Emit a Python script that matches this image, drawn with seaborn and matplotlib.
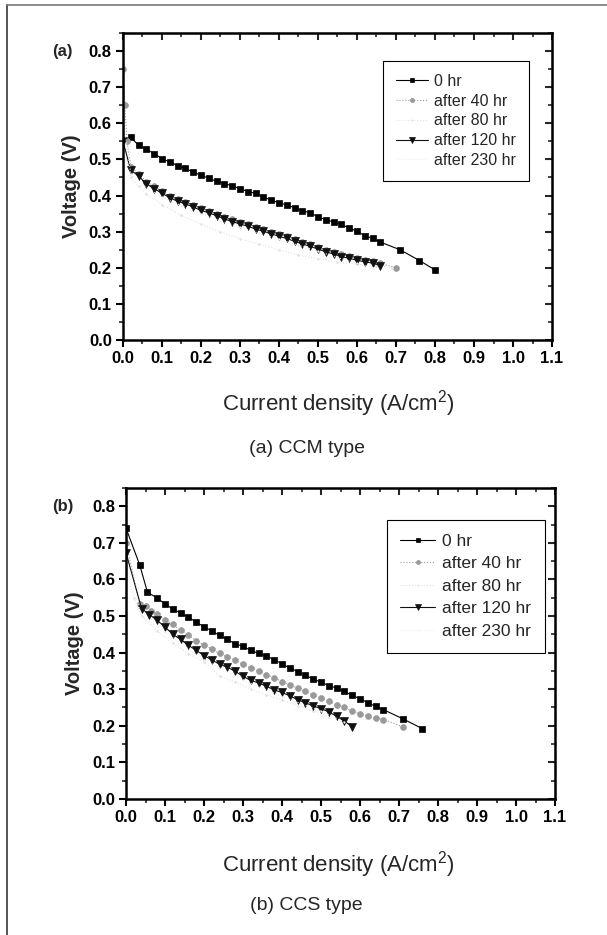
import matplotlib
matplotlib.use("Agg")
import matplotlib.pyplot as plt
from matplotlib.lines import Line2D
from matplotlib.ticker import MultipleLocator
import seaborn as sns

# ---- (a) CCM type ----
a_x_0 = [0.02, 0.04, 0.06, 0.08, 0.10, 0.12, 0.14, 0.16, 0.18, 0.20, 0.22, 0.24, 0.26, 0.28, 0.30, 0.32,
         0.34, 0.36, 0.38, 0.40, 0.42, 0.44, 0.46, 0.48, 0.50, 0.52, 0.54, 0.56, 0.58, 0.60, 0.62, 0.64,
         0.66, 0.71, 0.76, 0.80]
a_y_0 = [0.561, 0.539, 0.528, 0.516, 0.502, 0.493, 0.483, 0.475, 0.465, 0.456, 0.448, 0.439, 0.433, 0.427,
         0.419, 0.411, 0.406, 0.396, 0.387, 0.380, 0.374, 0.366, 0.358, 0.352, 0.341, 0.333, 0.327, 0.320,
         0.310, 0.301, 0.289, 0.281, 0.271, 0.250, 0.220, 0.194]
a_x_40 = [0.0, 0.005, 0.01, 0.02, 0.04, 0.06, 0.08, 0.10, 0.12, 0.14, 0.16, 0.18, 0.20, 0.22, 0.24, 0.26,
          0.28, 0.30, 0.32, 0.34, 0.36, 0.38, 0.40, 0.42, 0.44, 0.46, 0.48, 0.50, 0.52, 0.54, 0.56, 0.58,
          0.60, 0.62, 0.64, 0.66, 0.70]
a_y_40 = [0.75, 0.65, 0.55, 0.48, 0.460, 0.438, 0.425, 0.412, 0.400, 0.390, 0.383, 0.374, 0.365, 0.358,
          0.350, 0.341, 0.334, 0.327, 0.321, 0.313, 0.307, 0.300, 0.293, 0.287, 0.279, 0.272, 0.265, 0.258,
          0.250, 0.244, 0.237, 0.232, 0.227, 0.222, 0.219, 0.212, 0.200]
a_x_80 = [0.0, 0.01, 0.02, 0.04, 0.06, 0.10, 0.15, 0.20, 0.25, 0.30, 0.35, 0.40, 0.45, 0.50, 0.55, 0.60,
          0.65, 0.69]
a_y_80 = [0.66, 0.50, 0.45, 0.425, 0.405, 0.375, 0.345, 0.320, 0.300, 0.280, 0.265, 0.250, 0.235, 0.225,
          0.215, 0.210, 0.205, 0.200]
a_x_120 = [0.0, 0.02, 0.04, 0.06, 0.08, 0.10, 0.12, 0.14, 0.16, 0.18, 0.20, 0.22, 0.24, 0.26, 0.28, 0.30,
           0.32, 0.34, 0.36, 0.38, 0.40, 0.42, 0.44, 0.46, 0.48, 0.50, 0.52, 0.54, 0.56, 0.58, 0.60, 0.62,
           0.64, 0.66]
a_y_120 = [0.55, 0.47, 0.454, 0.432, 0.419, 0.406, 0.394, 0.384, 0.377, 0.368, 0.359, 0.352, 0.344, 0.335,
           0.328, 0.321, 0.315, 0.307, 0.301, 0.294, 0.287, 0.281, 0.273, 0.266, 0.259, 0.252, 0.244, 0.238,
           0.231, 0.226, 0.221, 0.216, 0.213, 0.206]
a_x_230 = [0.0, 0.02, 0.05, 0.10, 0.15, 0.20, 0.25, 0.30, 0.35, 0.40, 0.45, 0.50, 0.55, 0.60, 0.64]
a_y_230 = [0.62, 0.46, 0.43, 0.395, 0.372, 0.350, 0.330, 0.312, 0.295, 0.279, 0.262, 0.246, 0.228, 0.212, 0.200]

# ---- (b) CCS type ----
b_x_0 = [0.0, 0.035, 0.055, 0.08, 0.10, 0.12, 0.14, 0.16, 0.18, 0.20, 0.22, 0.24, 0.26, 0.28, 0.30, 0.32,
         0.34, 0.36, 0.38, 0.40, 0.42, 0.44, 0.46, 0.48, 0.50, 0.52, 0.54, 0.56, 0.58, 0.60, 0.62, 0.64,
         0.66, 0.71, 0.76]
b_y_0 = [0.74, 0.64, 0.565, 0.549, 0.533, 0.519, 0.508, 0.497, 0.483, 0.471, 0.459, 0.447, 0.436, 0.424,
         0.417, 0.406, 0.398, 0.390, 0.381, 0.369, 0.358, 0.348, 0.338, 0.328, 0.319, 0.310, 0.303, 0.294,
         0.283, 0.274, 0.263, 0.253, 0.244, 0.219, 0.192]
b_x_40 = [0.0, 0.035, 0.05, 0.065, 0.08, 0.10, 0.12, 0.14, 0.16, 0.18, 0.20, 0.22, 0.24, 0.26, 0.28, 0.30,
          0.32, 0.34, 0.36, 0.38, 0.40, 0.42, 0.44, 0.46, 0.48, 0.50, 0.52, 0.54, 0.56, 0.58, 0.60, 0.62,
          0.64, 0.66, 0.71]
b_y_40 = [0.70, 0.533, 0.527, 0.515, 0.505, 0.489, 0.477, 0.462, 0.447, 0.433, 0.421, 0.410, 0.398, 0.388,
          0.379, 0.368, 0.358, 0.349, 0.340, 0.331, 0.321, 0.312, 0.303, 0.294, 0.285, 0.276, 0.267, 0.258,
          0.250, 0.240, 0.233, 0.227, 0.222, 0.217, 0.197]
b_x_80 = [0.0, 0.02, 0.04, 0.08, 0.12, 0.16, 0.20, 0.24, 0.28, 0.32, 0.36, 0.40, 0.44, 0.48, 0.52]
b_y_80 = [0.62, 0.55, 0.50, 0.46, 0.425, 0.397, 0.375, 0.335, 0.320, 0.300, 0.285, 0.270, 0.255, 0.240, 0.225]
b_x_120 = [0.0, 0.04, 0.06, 0.08, 0.10, 0.12, 0.14, 0.16, 0.18, 0.20, 0.22, 0.24, 0.26, 0.28, 0.30, 0.32,
           0.34, 0.36, 0.38, 0.40, 0.42, 0.44, 0.46, 0.48, 0.50, 0.52, 0.54, 0.56, 0.58]
b_y_120 = [0.673, 0.52, 0.504, 0.488, 0.470, 0.450, 0.436, 0.420, 0.406, 0.392, 0.380, 0.368, 0.360, 0.349,
           0.335, 0.324, 0.317, 0.308, 0.298, 0.291, 0.282, 0.271, 0.263, 0.254, 0.247, 0.238, 0.226, 0.213,
           0.197]
b_x_230 = [0.0, 0.04, 0.10, 0.20, 0.30, 0.40, 0.50, 0.56]
b_y_230 = [0.64, 0.50, 0.455, 0.380, 0.325, 0.280, 0.240, 0.210]

labels = ["0 hr", "after 40 hr", "after 80 hr", "after 120 hr", "after 230 hr"]
x_ticks = [0.0, 0.1, 0.2, 0.3, 0.4, 0.5, 0.6, 0.7, 0.8, 0.9, 1.0, 1.1]
y_ticks = [0.0, 0.1, 0.2, 0.3, 0.4, 0.5, 0.6, 0.7, 0.8]

# look of each series: colour, marker, marker size, line style
styles = [
    ("black", "s", 5.0, "-"),
    ("#9a9a9a", "o", 4.2, ":"),
    ("#e2e2e2", ".", 2.5, ":"),
    ("#111111", "v", 5.5, "-"),
    ("#efefef", ".", 2.0, ":"),
]

sns.set_style("ticks")
plt.rcParams["font.family"] = ["Liberation Sans", "DejaVu Sans"]

fig = plt.figure(figsize=(6.07, 9.35), dpi=100)

# outer frame of the scanned figure (top and left edges only)
fig.add_artist(Line2D([0.011, 0.011], [0.0, 0.995], transform=fig.transFigure, color="#555555", lw=1.4))
fig.add_artist(Line2D([0.011, 1.0], [0.995, 0.995], transform=fig.transFigure, color="#777777", lw=1.2))


def draw_panel(rect, data, tag, caption, leg_anchor, leg_fs, leg_sp, cap_y, xl_y):
    ax = fig.add_axes(rect)
    for (xs, ys), lab, (c, m, ms, ls) in zip(data, labels, styles):
        sns.lineplot(x=xs, y=ys, ax=ax, color=c, marker=m, markersize=ms, linestyle=ls,
                     linewidth=0.8, markeredgecolor=c, markeredgewidth=0.5, label=lab,
                     sort=False, estimator=None)

    ax.set_xlim(0, 1.1)
    ax.set_ylim(0, 0.85)
    ax.set_xticks(x_ticks)
    ax.set_yticks(y_ticks)
    ax.xaxis.set_minor_locator(MultipleLocator(0.05))
    ax.yaxis.set_minor_locator(MultipleLocator(0.05))
    ax.set_xticklabels([f"{v:.1f}" for v in x_ticks], fontsize=12, fontweight="bold")
    ax.set_yticklabels([f"{v:.1f}" for v in y_ticks], fontsize=12, fontweight="bold")
    ax.tick_params(which="major", direction="out", length=5, width=1.5, pad=3, colors="black")
    ax.tick_params(which="minor", direction="out", length=3, width=1.2)
    for sp in ax.spines.values():
        sp.set_visible(True)
        sp.set_linewidth(1.8)
        sp.set_color("black")

    # inward ticks on top and right
    top = ax.secondary_xaxis("top")
    top.set_xticks(x_ticks)
    top.xaxis.set_minor_locator(MultipleLocator(0.05))
    top.tick_params(which="major", direction="in", length=5, width=1.5, labeltop=False)
    top.tick_params(which="minor", direction="in", length=3, width=1.2)
    right = ax.secondary_yaxis("right")
    right.set_yticks(y_ticks)
    right.yaxis.set_minor_locator(MultipleLocator(0.05))
    right.tick_params(which="major", direction="in", length=5, width=1.5, labelright=False)
    right.tick_params(which="minor", direction="in", length=3, width=1.2)

    ax.set_xlabel("")
    ax.set_ylabel("Voltage (V)", fontsize=14.5, fontweight="bold", labelpad=6)
    fig.text(0.558, xl_y, "Current density (A/cm$^{\\mathregular{2}}$)", fontsize=16,
             ha="center", va="center")
    fig.text(0.505, cap_y, caption, fontsize=14, ha="center", va="center")
    fig.text(0.103, rect[1] + rect[3] - 0.02, tag, fontsize=12, fontweight="bold",
             ha="center", va="center")

    handles, labs = ax.get_legend_handles_labels()
    leg = ax.legend(handles, labs, loc="upper left", bbox_to_anchor=leg_anchor, fontsize=leg_fs,
                    frameon=True, fancybox=False, edgecolor="black", framealpha=1, markerscale=0.7,
                    handlelength=2.0, handletextpad=0.4, labelspacing=leg_sp, borderpad=0.8)
    leg.get_frame().set_linewidth(0.8)
    return ax


draw_panel([0.2026, 0.6364, 0.7068, 0.3283],
           [(a_x_0, a_y_0), (a_x_40, a_y_40), (a_x_80, a_y_80), (a_x_120, a_y_120), (a_x_230, a_y_230)],
           "(a)", "(a) CCM type", (0.587, 0.935), 11.5, 0.3, 0.520, 0.568)

draw_panel([0.2076, 0.1455, 0.7068, 0.3326],
           [(b_x_0, b_y_0), (b_x_40, b_y_40), (b_x_80, b_y_80), (b_x_120, b_y_120), (b_x_230, b_y_230)],
           "(b)", "(b) CCS type", (0.587, 0.925), 12.5, 0.42, 0.032, 0.075)

fig.savefig("out.png", dpi=100)
